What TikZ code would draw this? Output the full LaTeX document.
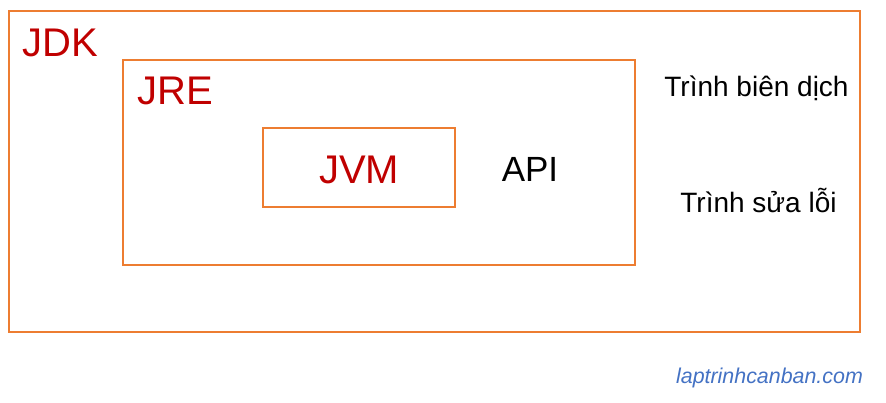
\documentclass[tikz,border=0pt]{standalone}
\usepackage{fontspec}
\setmainfont{Liberation Sans}
\definecolor{boxorange}{HTML}{ED7D31}
\definecolor{labred}{HTML}{C00000}
\definecolor{linkblue}{HTML}{4472C4}
\begin{document}
\begin{tikzpicture}[x=1pt,y=-1pt,
  frame/.style={draw=boxorange,line width=2pt},
  biglabel/.style={text=labred,inner sep=0pt,font=\fontsize{40}{48}\selectfont},
  tool/.style={text=black,inner sep=0pt,font=\fontsize{28}{34}\selectfont,anchor=base},
]
\useasboundingbox (0,0) rectangle (886,402);
\fill[white] (0,0) rectangle (886,402);
\draw[frame] (9,11) rectangle (860,332);
\draw[frame] (123,60) rectangle (635,265);
\draw[frame] (263,128) rectangle (455,207);
\node[biglabel,anchor=base west] (jdk) at (22.5,56) {JDK};
\node[biglabel,anchor=base west] (jre) at (137.5,104) {JRE};
\node[biglabel,anchor=base] (jvm) at (359,183) {JVM};
\node[inner sep=0pt,anchor=base,font=\fontsize{35}{42}\selectfont] (api) at (530,181) {API};
\node[tool] (bien) at (756.5,96) {Trình biên dịch};
\node[tool] (sua) at (758.5,212) {Trình sửa lỗi};
\node[inner sep=0pt,anchor=base,text=linkblue,font=\fontsize{21.4}{26}\selectfont\itshape] (site) at (769.5,383) {laptrinhcanban.com};
\end{tikzpicture}
\end{document}
